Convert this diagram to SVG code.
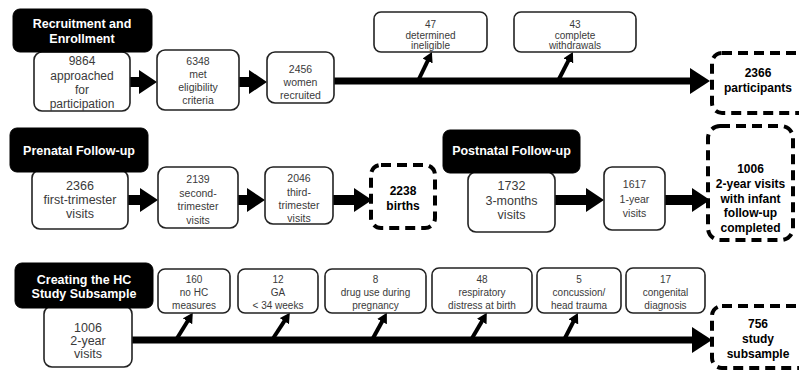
<svg xmlns="http://www.w3.org/2000/svg" width="799" height="372" viewBox="0 0 799 372">
<style>
  .box{fill:#fff;stroke:#222;stroke-width:1.6}
  .dash{fill:#fff;stroke:#000;stroke-width:4;stroke-dasharray:10 6}
  .hdr{fill:#000;stroke:#000;stroke-width:1}
  text{font-family:"Liberation Sans",Arial,sans-serif;text-anchor:middle}
  .t{fill:#3a3a3a;font-size:10.5px}
  .tl{fill:#3a3a3a;font-size:12px}
  .tx{fill:#3a3a3a;font-size:12.5px}
  .ts{fill:#3a3a3a;font-size:10px}
  .tb{fill:#000;font-size:12px;font-weight:bold}
  .th{fill:#fff;font-size:12.5px;font-weight:bold}
  .shaft{stroke:#000;stroke-width:10;fill:none}
  .line{stroke:#000;stroke-width:7;fill:none}
  .thin{stroke:#000;stroke-width:4;fill:none}
</style>
<defs>
  <marker id="head" markerUnits="userSpaceOnUse" viewBox="0 0 18 24" markerWidth="18" markerHeight="24" refX="6" refY="12" orient="auto">
    <path d="M0,0 L18,12 L0,24 Z" fill="#000"/>
  </marker>
  <marker id="big" markerUnits="userSpaceOnUse" viewBox="0 0 20 26" markerWidth="20" markerHeight="26" refX="6" refY="13" orient="auto">
    <path d="M0,0 L20,13 L0,26 Z" fill="#000"/>
  </marker>
  <marker id="small" markerUnits="userSpaceOnUse" viewBox="0 0 10 11" markerWidth="10" markerHeight="11" refX="3" refY="5.5" orient="auto">
    <path d="M0,0 L10,5.5 L0,11 Z" fill="#000"/>
  </marker>
</defs>
<rect width="799" height="372" fill="#fff"/>

<g id="connectors">
  <!-- row 1 -->
  <line class="shaft" x1="130" y1="82" x2="145" y2="82" marker-end="url(#head)"/>
  <line class="shaft" x1="239" y1="82" x2="255" y2="82" marker-end="url(#head)"/>
  <line class="line" x1="334" y1="81" x2="696" y2="81" marker-end="url(#big)"/>
  <line class="thin" x1="418" y1="81" x2="428.9" y2="58.3" marker-end="url(#small)"/>
  <line class="thin" x1="558" y1="81" x2="569.7" y2="58.2" marker-end="url(#small)"/>
  <!-- row 2 -->
  <line class="shaft" x1="128" y1="200" x2="146" y2="200" marker-end="url(#head)"/>
  <line class="shaft" x1="238" y1="200" x2="253" y2="200" marker-end="url(#head)"/>
  <line class="shaft" x1="333" y1="200" x2="360" y2="200" marker-end="url(#head)"/>
  <line class="shaft" x1="555" y1="200" x2="592" y2="200" marker-end="url(#head)"/>
  <line class="shaft" x1="665" y1="200" x2="698" y2="200" marker-end="url(#head)"/>
  <!-- row 3 -->
  <line class="line" x1="132" y1="340" x2="698" y2="340" stroke-width="8" marker-end="url(#big)"/>
  <line class="thin" x1="176" y1="340" x2="189.1" y2="318.8" marker-end="url(#small)"/>
  <line class="thin" x1="272" y1="340" x2="286" y2="318.7" marker-end="url(#small)"/>
  <line class="thin" x1="372" y1="340" x2="383.5" y2="319" marker-end="url(#small)"/>
  <line class="thin" x1="471" y1="340" x2="483.3" y2="318.9" marker-end="url(#small)"/>
  <line class="thin" x1="564" y1="340" x2="574.7" y2="319.2" marker-end="url(#small)"/>
</g>

<!-- Row 1 -->
<g id="n9864">
  <rect class="box" x="34" y="52" width="96" height="59" rx="8"/>
  <text class="tl"><tspan x="82" y="65">9864</tspan><tspan x="82" y="80">approached</tspan><tspan x="82" y="94">for</tspan><tspan x="82" y="108">participation</tspan></text>
</g>
<g id="n6348">
  <rect class="box" x="157" y="50" width="82" height="60" rx="8"/>
  <text class="t"><tspan x="198" y="65">6348</tspan><tspan x="198" y="78">met</tspan><tspan x="198" y="91">eligibility</tspan><tspan x="198" y="104">criteria</tspan></text>
</g>
<g id="n2456">
  <rect class="box" x="267" y="52" width="67" height="51" rx="8"/>
  <text class="t"><tspan x="300.5" y="73">2456</tspan><tspan x="300.5" y="86">women</tspan><tspan x="300.5" y="99">recruited</tspan></text>
</g>
<g id="n47">
  <rect class="box" x="374" y="12" width="113" height="40" rx="7"/>
  <text class="ts"><tspan x="430.5" y="28">47</tspan><tspan x="430.5" y="39">determined</tspan><tspan x="430.5" y="49">ineligible</tspan></text>
</g>
<g id="n43">
  <rect class="box" x="514" y="12" width="122" height="40" rx="7"/>
  <text class="ts"><tspan x="575" y="28">43</tspan><tspan x="575" y="39">complete</tspan><tspan x="575" y="49">withdrawals</tspan></text>
</g>
<g id="n2366p">
  <rect class="dash" x="712" y="53" width="98" height="60" rx="10"/>
  <text class="tb"><tspan x="758" y="77">2366</tspan><tspan x="758" y="92">participants</tspan></text>
</g>
<g id="h1">
  <rect class="hdr" x="13" y="9" width="139" height="43" rx="7"/>
  <text class="th"><tspan x="82" y="28">Recruitment and</tspan><tspan x="82" y="43">Enrollment</tspan></text>
</g>

<!-- Row 2 -->
<g id="n2366f">
  <rect class="box" x="32" y="170" width="96" height="59" rx="8"/>
  <text class="tx"><tspan x="80" y="190">2366</tspan><tspan x="80" y="204">first-trimester</tspan><tspan x="80" y="218">visits</tspan></text>
</g>
<g id="n2139">
  <rect class="box" x="158" y="167" width="80" height="61" rx="8"/>
  <text class="t"><tspan x="198" y="183">2139</tspan><tspan x="198" y="197">second-</tspan><tspan x="198" y="210">trimester</tspan><tspan x="198" y="224">visits</tspan></text>
</g>
<g id="n2046">
  <rect class="box" x="265" y="167" width="68" height="57" rx="8"/>
  <text class="t"><tspan x="299" y="182">2046</tspan><tspan x="299" y="196">third-</tspan><tspan x="299" y="209">trimester</tspan><tspan x="299" y="222">visits</tspan></text>
</g>
<g id="n2238">
  <rect class="dash" x="371" y="165" width="64" height="63" rx="10"/>
  <text class="tb"><tspan x="403" y="195">2238</tspan><tspan x="403" y="210">births</tspan></text>
</g>
<g id="h2">
  <rect class="hdr" x="10" y="128" width="138" height="44" rx="7"/>
  <text class="th" x="79" y="155">Prenatal Follow-up</text>
</g>
<g id="n1732">
  <rect class="box" x="468" y="172" width="87" height="60" rx="8"/>
  <text class="tx"><tspan x="511.5" y="190">1732</tspan><tspan x="511.5" y="205">3-months</tspan><tspan x="511.5" y="219">visits</tspan></text>
</g>
<g id="n1617">
  <rect class="box" x="604" y="167" width="61" height="63" rx="8"/>
  <text class="t"><tspan x="634.5" y="188">1617</tspan><tspan x="634.5" y="203">1-year</tspan><tspan x="634.5" y="217">visits</tspan></text>
</g>
<g id="n1006f">
  <rect class="dash" x="708" y="126" width="85" height="114" rx="12"/>
  <text class="tb"><tspan x="750.5" y="173">1006</tspan><tspan x="750.5" y="188">2-year visits</tspan><tspan x="750.5" y="203">with infant</tspan><tspan x="750.5" y="217">follow-up</tspan><tspan x="750.5" y="232">completed</tspan></text>
</g>
<g id="h3">
  <rect class="hdr" x="443" y="130" width="137" height="43" rx="7"/>
  <text class="th" x="511.5" y="155">Postnatal Follow-up</text>
</g>

<!-- Row 3 -->
<g id="n1006v">
  <rect class="box" x="44" y="306" width="88" height="61" rx="8"/>
  <text class="tx"><tspan x="88" y="332">1006</tspan><tspan x="88" y="345">2-year</tspan><tspan x="88" y="358">visits</tspan></text>
</g>
<g id="h4">
  <rect class="hdr" x="15" y="263" width="138" height="45" rx="7"/>
  <text class="th"><tspan x="84" y="284">Creating the HC</tspan><tspan x="84" y="298">Study Subsample</tspan></text>
</g>
<g id="n160">
  <rect class="box" x="158" y="269" width="72" height="44" rx="7"/>
  <text class="ts"><tspan x="194" y="283">160</tspan><tspan x="194" y="296">no HC</tspan><tspan x="194" y="309">measures</tspan></text>
</g>
<g id="n12">
  <rect class="box" x="238" y="269" width="80" height="44" rx="7"/>
  <text class="ts"><tspan x="278" y="283">12</tspan><tspan x="278" y="296">GA</tspan><tspan x="278" y="309">&lt; 34 weeks</tspan></text>
</g>
<g id="n8">
  <rect class="box" x="325" y="269" width="101" height="44" rx="7"/>
  <text class="ts"><tspan x="375.5" y="283">8</tspan><tspan x="375.5" y="296">drug use during</tspan><tspan x="375.5" y="309">pregnancy</tspan></text>
</g>
<g id="n48">
  <rect class="box" x="432" y="268" width="100" height="45" rx="7"/>
  <text class="ts"><tspan x="482" y="283">48</tspan><tspan x="482" y="296">respiratory</tspan><tspan x="482" y="309">distress at birth</tspan></text>
</g>
<g id="n5">
  <rect class="box" x="537" y="268" width="84" height="45" rx="7"/>
  <text class="ts"><tspan x="579" y="283">5</tspan><tspan x="579" y="296">concussion/</tspan><tspan x="579" y="309">head trauma</tspan></text>
</g>
<g id="n17">
  <rect class="box" x="626" y="268" width="79" height="45" rx="7"/>
  <text class="ts"><tspan x="665.5" y="283">17</tspan><tspan x="665.5" y="296">congenital</tspan><tspan x="665.5" y="309">diagnosis</tspan></text>
</g>
<g id="n756">
  <rect class="dash" x="712" y="306" width="98" height="62" rx="10"/>
  <text class="tb"><tspan x="758" y="328">756</tspan><tspan x="758" y="343">study</tspan><tspan x="758" y="358">subsample</tspan></text>
</g>
</svg>
